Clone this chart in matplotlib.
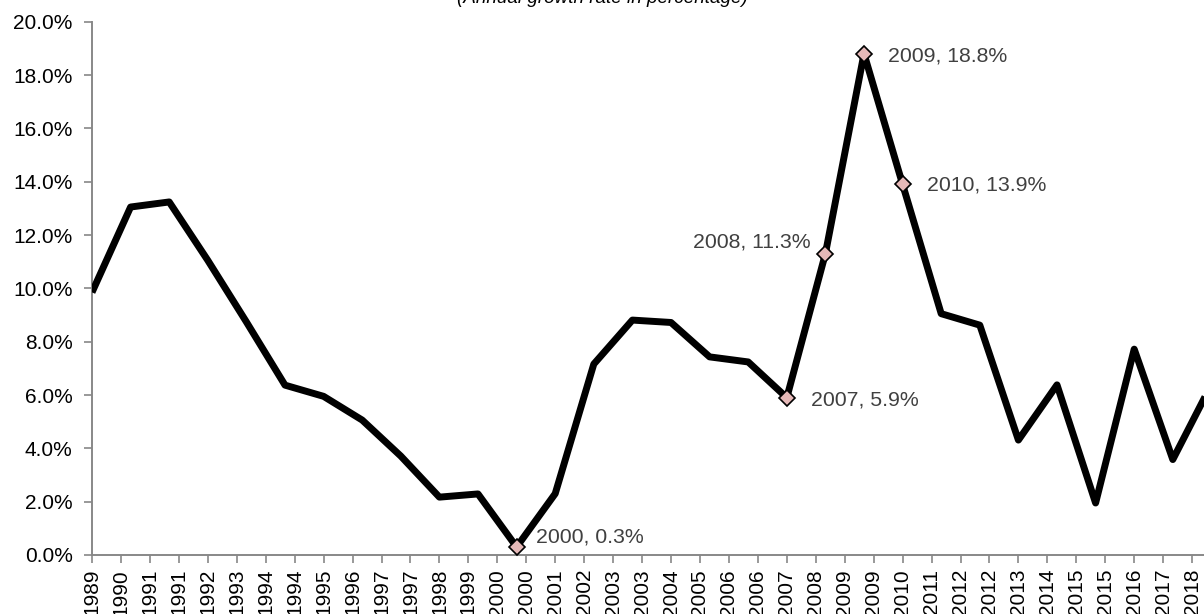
import matplotlib
matplotlib.use("Agg")
import matplotlib.pyplot as plt
from matplotlib.ticker import FuncFormatter

years = list(range(1989, 2019))
growth = [9.85, 13.05, 13.24, 11.05, 8.74, 6.37, 5.95, 5.06, 3.71, 2.17,
          2.29, 0.3, 2.3, 7.16, 8.81, 8.72, 7.43, 7.24, 5.9, 11.3,
          18.8, 13.9, 9.05, 8.62, 4.31, 6.38, 1.95, 7.72, 3.58, 6.4]
highlight_years = [2000, 2007, 2008, 2009, 2010]
xtick_labels = ["1989", "1990", "1991", "1991", "1992", "1993", "1994", "1994",
                "1995", "1996", "1997", "1997", "1998", "1999", "2000", "2000",
                "2001", "2002", "2003", "2003", "2004", "2005", "2006", "2006",
                "2007", "2008", "2009", "2009", "2010", "2011", "2012", "2012",
                "2013", "2014", "2015", "2015", "2016", "2017", "2018"]
title = "(Annual growth rate in percentage)"

plt.rcParams['font.family'] = ['Liberation Sans', 'DejaVu Sans']

W, H = 1204, 614
fig = plt.figure(figsize=(W / 100, H / 100), dpi=100)
left_px, right_px, top_px, bottom_px = 92, 1204, 21.7, 555
ax = fig.add_axes([left_px / W, 1 - bottom_px / H,
                   (right_px - left_px) / W, (bottom_px - top_px) / H])

px_per_year = 38.6
ax.set_xlim(1989, 1989 + (right_px - left_px) / px_per_year)
ax.set_ylim(0, 20)

ax.plot(years, growth, color='black', lw=5, solid_joinstyle='round',
        solid_capstyle='butt', zorder=3)

hx = [y for y in highlight_years]
hy = [growth[years.index(y)] for y in highlight_years]
ax.plot(hx, hy, linestyle='none', marker='D', ms=8.5, mfc='#E6B9B8',
        mec='black', mew=1.2, zorder=4, clip_on=False)

offsets = {2000: (19, 10, 'left'), 2007: (24, -2, 'left'),
           2008: (-15, 12, 'right'), 2009: (24, -2, 'left'),
           2010: (24, -1, 'left')}
for x, y in zip(hx, hy):
    dx, dy, ha = offsets[x]
    ax.annotate(f"{x}, {y:.1f}%", (x, y), xytext=(dx, dy),
                textcoords='offset pixels', ha=ha, va='center',
                fontsize=15.3, color='#404040', zorder=5)

tick_pos = [1989 + 0.75 * k for k in range(len(xtick_labels))]
ax.set_xticks(tick_pos)
ax.set_xticklabels(xtick_labels, rotation=90, fontsize=15)
ax.set_yticks([i * 2 for i in range(11)])
ax.yaxis.set_major_formatter(FuncFormatter(lambda v, p: f"{v:.1f}%"))
ax.tick_params(axis='y', labelsize=15, length=6, width=1.2,
               color='#888888', pad=8)
ax.tick_params(axis='x', length=6, width=1.2, color='#888888', pad=4)

for s in ['top', 'right']:
    ax.spines[s].set_visible(False)
for s in ['left', 'bottom']:
    ax.spines[s].set_color('#888888')
    ax.spines[s].set_linewidth(1.4)

fig.text(602 / W, 1 - 2.7 / H, title, ha='center', va='baseline',
         fontsize=13.6, style='italic', color='black')

fig.savefig("out.png", dpi=100)
